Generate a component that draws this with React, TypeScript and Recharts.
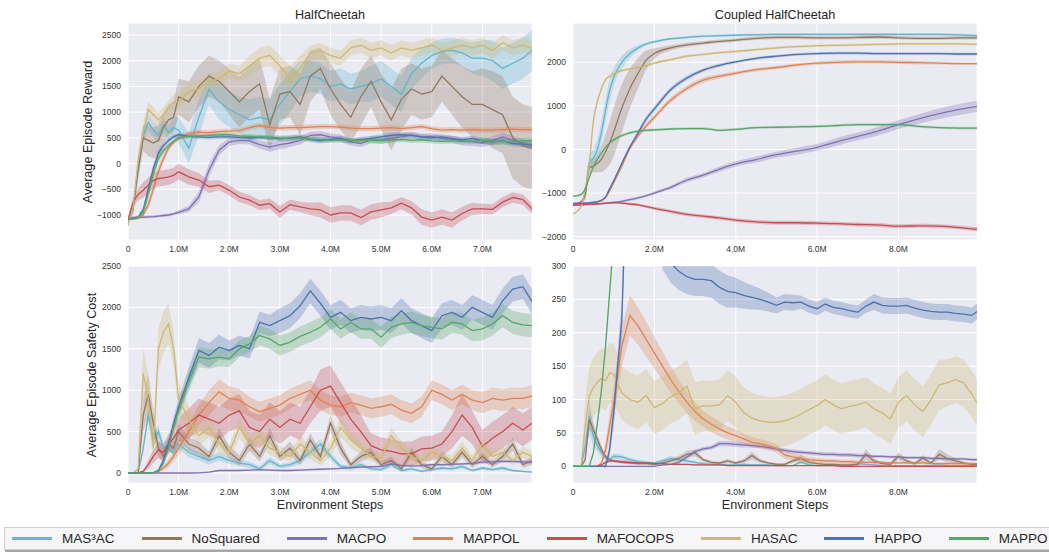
import React from "react";
import { ComposedChart, Area, Line, XAxis, YAxis, CartesianGrid } from "recharts";

type Series = { key: string; name: string; color: string };

const SERIES: Series[] = [
  { key: "mas3ac", name: "MAS³AC", color: "#64B5CD" },
  { key: "nosquared", name: "NoSquared", color: "#937860" },
  { key: "macpo", name: "MACPO", color: "#8172B3" },
  { key: "mappol", name: "MAPPOL", color: "#DD8452" },
  { key: "mafocops", name: "MAFOCOPS", color: "#C44E52" },
  { key: "hasac", name: "HASAC", color: "#CCB974" },
  { key: "happo", name: "HAPPO", color: "#4C72B0" },
  { key: "mappo", name: "MAPPO", color: "#55A868" },
];

// ---- x samples (millions of environment steps) ----
const STEPS_HC = [
  0, 0.1, 0.2, 0.3, 0.4, 0.5, 0.6, 0.7, 0.8, 0.9,
  1.0, 1.2, 1.4, 1.6, 1.8, 2.0, 2.2, 2.4, 2.6, 2.8,
  3.0, 3.2, 3.4, 3.6, 3.8, 4.0, 4.2, 4.4, 4.6, 4.8,
  5.0, 5.2, 5.4, 5.6, 5.8, 6.0, 6.2, 6.4, 6.6, 6.8,
  7.0, 7.2, 7.4, 7.6, 7.8, 7.98,
];
const STEPS_CHC_REWARD = [
  0, 0.1, 0.2, 0.3, 0.4, 0.5, 0.6, 0.7, 0.8, 0.9,
  1.0, 1.2, 1.4, 1.6, 1.8, 2.0, 2.4, 2.8, 3.2, 3.6,
  4.0, 4.5, 5.0, 5.5, 6.0, 6.5, 7.0, 7.5, 8.0, 8.5,
  9.0, 9.5, 9.93,
];
const STEPS_CHC_COST = [
  0, 0.1, 0.2, 0.3, 0.4, 0.5, 0.6, 0.7, 0.8, 0.9, 1.0,
  1.2, 1.4, 1.6, 1.8, 2.0, 2.2, 2.4, 2.6, 2.8, 3.0,
  3.2, 3.4, 3.6, 3.8, 4.0, 4.2, 4.4, 4.6, 4.8, 5.0,
  5.2, 5.4, 5.6, 5.8, 6.0, 6.2, 6.4, 6.6, 6.8, 7.0,
  7.2, 7.4, 7.6, 7.8, 8.0, 8.2, 8.4, 8.6, 8.8, 9.0,
  9.2, 9.4, 9.6, 9.8, 9.93,
];

// ---- tick labels ----
const X_TICKS_HC = [0, 1, 2, 3, 4, 5, 6, 7];
const X_TICKS_CHC = [0, 2, 4, 6, 8];
const Y_TICKS_HC_REWARD = [-1000, -500, 0, 500, 1000, 1500, 2000, 2500];
const Y_TICKS_CHC_REWARD = [-2000, -1000, 0, 1000, 2000];
const Y_TICKS_HC_COST = [0, 500, 1000, 1500, 2000, 2500];
const Y_TICKS_CHC_COST = [0, 50, 100, 150, 200, 250, 300];

// ---- HalfCheetah reward: mean / half band ----
const hcRewardMas3ac = [
  -1100, -850, -150, 550, 800, 650, 550, 750, 600, 700,
  650, 300, 900, 1450, 1200, 1050, 950, 850, 900, 850,
  1150, 1400, 1650, 1700, 1650, 1500, 1550, 1450, 1500, 1550,
  1650, 1500, 1350, 1750, 1950, 2100, 2180, 2200, 2150, 2050,
  2050, 2000, 1850, 1950, 2050, 2200,
];
const hcRewardMas3acSd = [
  50, 100, 150, 150, 150, 150, 150, 150, 150, 200,
  250, 300, 350, 300, 350, 350, 350, 400, 400, 400,
  400, 400, 350, 300, 300, 300, 300, 300, 300, 350,
  350, 350, 350, 300, 300, 250, 250, 250, 250, 300,
  350, 400, 400, 400, 400, 400,
];
const hcRewardNoSquared = [
  -1100, -900, -100, 500, 450, 400, 450, 700, 850, 900,
  1300, 1200, 1500, 1700, 1600, 1400, 1200, 1400, 1550, 750,
  1350, 1400, 1150, 1700, 1850, 1450, 1150, 900, 1300, 1600,
  1200, 850, 1250, 1450, 1350, 1400, 1700, 1500, 1300, 1150,
  1150, 1050, 950, 500, 350, 300,
];
const hcRewardNoSquaredSd = [
  50, 100, 200, 250, 300, 300, 300, 300, 300, 300,
  350, 400, 400, 400, 400, 450, 500, 500, 500, 500,
  500, 500, 600, 500, 400, 500, 500, 500, 550, 500,
  550, 600, 600, 500, 500, 500, 500, 550, 600, 650,
  700, 750, 750, 800, 800, 800,
];
const hcRewardMacpo = [
  -1060, -1050, -1045, -1040, -1035, -1030, -1020, -1010, -1000, -980,
  -950, -880, -650, -130, 260, 420, 450, 440, 370, 320,
  370, 400, 450, 550, 560, 520, 490, 420, 390, 460,
  460, 490, 520, 550, 520, 530, 490, 470, 430, 420,
  400, 450, 520, 460, 400, 350,
];
const hcRewardMacpoSd = [
  30, 30, 30, 30, 30, 30, 30, 30, 30, 30,
  40, 60, 100, 120, 100, 80, 70, 70, 80, 90,
  90, 80, 80, 70, 70, 70, 70, 70, 70, 70,
  80, 80, 70, 70, 60, 60, 60, 70, 80, 80,
  80, 80, 80, 80, 80, 80,
];
const hcRewardMappol = [
  -1080, -1075, -1060, -1000, -800, -500, -150, 100, 300, 420,
  500, 580, 610, 600, 620, 630, 640, 700, 740, 700,
  690, 700, 700, 710, 720, 720, 710, 690, 680, 680,
  690, 700, 680, 700, 720, 680, 650, 660, 650, 660,
  650, 650, 660, 670, 660, 660,
];
const hcRewardMappolSd = [
  20, 20, 30, 40, 80, 100, 100, 80, 60, 50,
  50, 50, 50, 50, 50, 50, 50, 50, 50, 50,
  50, 50, 50, 50, 50, 50, 50, 50, 50, 50,
  50, 50, 50, 50, 50, 50, 50, 50, 50, 50,
  50, 50, 50, 50, 50, 50,
];
const hcRewardMafocops = [
  -1100, -750, -600, -520, -420, -330, -290, -280, -260, -230,
  -160, -260, -320, -450, -420, -520, -650, -710, -810, -780,
  -940, -800, -840, -880, -900, -1000, -960, -960, -1050, -940,
  -900, -860, -770, -860, -1040, -1100, -1040, -1100, -970, -880,
  -880, -890, -750, -660, -700, -880,
];
const hcRewardMafocopsSd = [
  30, 80, 120, 150, 150, 150, 150, 150, 150, 150,
  150, 150, 130, 120, 100, 100, 100, 100, 100, 100,
  120, 100, 100, 120, 150, 150, 150, 150, 150, 150,
  150, 120, 120, 130, 150, 150, 150, 150, 130, 120,
  100, 100, 100, 100, 100, 100,
];
const hcRewardHasac = [
  -1200, -850, 50, 600, 1050, 950, 850, 950, 1070, 1200,
  1200, 1400, 1450, 1600, 1650, 1800, 1750, 1900, 2050, 2100,
  1900, 1650, 1850, 2150, 2200, 2100, 2050, 2250, 2300, 2200,
  2250, 2150, 2250, 2200, 2250, 2300, 2200, 2250, 2300, 2250,
  2300, 2200, 2350, 2250, 2300, 2250,
];
const hcRewardHasacSd = [
  50, 100, 200, 200, 150, 150, 150, 150, 150, 150,
  150, 150, 150, 150, 150, 150, 150, 200, 200, 200,
  200, 250, 250, 150, 150, 150, 150, 150, 150, 150,
  150, 150, 150, 150, 150, 150, 150, 150, 150, 150,
  150, 150, 150, 150, 150, 150,
];
const hcRewardHappo = [
  -1080, -1070, -1040, -900, -500, -100, 200, 350, 450, 520,
  560, 530, 520, 510, 520, 520, 510, 500, 510, 500,
  480, 500, 520, 470, 440, 470, 490, 440, 470, 490,
  520, 550, 560, 550, 520, 500, 520, 490, 460, 490,
  440, 420, 440, 390, 380, 360,
];
const hcRewardHappoSd = [
  20, 20, 30, 60, 100, 100, 80, 60, 50, 40,
  40, 40, 40, 40, 40, 40, 40, 40, 40, 40,
  50, 50, 50, 50, 50, 50, 50, 50, 50, 50,
  50, 50, 50, 50, 50, 50, 50, 50, 50, 50,
  60, 60, 60, 60, 60, 60,
];
const hcRewardMappo = [
  -1080, -1075, -1050, -950, -600, -200, 100, 250, 350, 430,
  500, 530, 540, 550, 560, 560, 540, 530, 520, 510,
  500, 490, 500, 480, 470, 450, 460, 440, 450, 450,
  440, 460, 470, 450, 460, 440, 430, 440, 440, 430,
  450, 420, 430, 420, 440, 450,
];
const hcRewardMappoSd = [
  20, 20, 30, 60, 100, 100, 80, 60, 50, 40,
  40, 40, 40, 40, 40, 40, 40, 40, 40, 40,
  50, 50, 50, 50, 50, 50, 50, 50, 50, 50,
  50, 50, 50, 50, 50, 50, 50, 50, 50, 50,
  60, 60, 60, 60, 60, 60,
];

// ---- HalfCheetah safety cost ----
const hcCostMas3ac = [
  0, 0, 0, 300, 700, 400, 500, 300, 350, 250,
  350, 250, 200, 150, 200, 150, 120, 100, 50, 150,
  80, 100, 150, 250, 350, 200, 80, 60, 100, 50,
  40, 100, 30, 50, 20, 40, 60, 50, 80, 30,
  60, 40, 60, 30, 20, 10,
];
const hcCostMas3acSd = [
  0, 0, 5, 60, 80, 80, 80, 60, 60, 50,
  60, 60, 50, 50, 50, 40, 40, 40, 30, 40,
  30, 30, 40, 50, 60, 50, 30, 30, 30, 20,
  20, 30, 20, 20, 15, 20, 20, 20, 25, 15,
  20, 15, 20, 15, 10, 10,
];
const hcCostNoSquared = [
  0, 0, 0, 700, 950, 600, 300, 200, 350, 300,
  500, 350, 300, 200, 450, 250, 150, 350, 200, 450,
  200, 300, 150, 400, 200, 600, 300, 100, 200, 250,
  100, 150, 50, 250, 100, 50, 200, 100, 250, 100,
  200, 100, 200, 350, 100, 150,
];
const hcCostNoSquaredSd = [
  0, 0, 5, 200, 250, 150, 100, 80, 80, 80,
  100, 80, 80, 60, 100, 80, 60, 80, 60, 100,
  60, 80, 60, 80, 60, 100, 80, 40, 60, 60,
  40, 50, 30, 60, 40, 30, 60, 40, 60, 40,
  50, 40, 50, 80, 40, 50,
];
const hcCostMacpo = [
  0, 0, 0, 0, 0, 0, 0, 0, 0, 0,
  0, 0, 2, 10, 30, 30, 30, 35, 40, 35,
  30, 30, 35, 40, 45, 50, 55, 65, 70, 75,
  80, 110, 90, 85, 90, 100, 100, 105, 110, 115,
  130, 135, 140, 140, 135, 130,
];
const hcCostMacpoSd = [
  1, 1, 1, 1, 1, 1, 1, 1, 1, 1,
  2, 2, 3, 5, 8, 8, 8, 8, 10, 10,
  10, 10, 10, 10, 10, 10, 10, 10, 10, 10,
  15, 15, 15, 15, 15, 15, 15, 15, 15, 15,
  20, 20, 20, 20, 20, 20,
];
const hcCostMappol = [
  0, 0, 0, 0, 0, 2, 20, 60, 120, 200,
  300, 500, 700, 850, 980, 900, 880, 800, 740, 780,
  820, 900, 950, 1000, 880, 820, 800, 850, 820, 780,
  800, 830, 760, 720, 800, 1000, 950, 880, 950, 880,
  850, 900, 880, 900, 900, 930,
];
const hcCostMappolSd = [
  0, 0, 0, 0, 0, 5, 15, 30, 50, 60,
  80, 100, 120, 150, 150, 150, 130, 120, 120, 120,
  120, 120, 120, 120, 120, 120, 120, 120, 120, 120,
  120, 120, 120, 120, 120, 120, 120, 120, 120, 120,
  130, 130, 130, 130, 130, 130,
];
const hcCostMafocops = [
  0, 0, 0, 20, 100, 200, 280, 250, 350, 420,
  520, 600, 700, 650, 600, 700, 750, 550, 500, 650,
  550, 650, 600, 800, 1000, 1050, 850, 650, 500, 330,
  280, 260, 230, 230, 290, 300, 350, 500, 700, 550,
  320, 420, 500, 600, 520, 600,
];
const hcCostMafocopsSd = [
  0, 0, 0, 20, 50, 80, 100, 100, 120, 140,
  150, 180, 200, 200, 200, 200, 200, 200, 200, 200,
  200, 200, 200, 200, 250, 250, 250, 250, 200, 150,
  150, 150, 150, 150, 150, 150, 150, 200, 250, 200,
  200, 200, 200, 200, 200, 200,
];
const hcCostHasac = [
  0, 0, 50, 1200, 900, 300, 1500, 1700, 1800, 1500,
  900, 650, 450, 550, 350, 250, 550, 350, 450, 300,
  250, 200, 350, 250, 150, 300, 550, 400, 300, 200,
  180, 450, 300, 200, 150, 250, 200, 150, 300, 150,
  350, 200, 250, 150, 250, 200,
];
const hcCostHasacSd = [
  0, 0, 20, 300, 300, 150, 250, 250, 250, 200,
  200, 150, 120, 120, 100, 80, 120, 100, 100, 80,
  80, 60, 100, 80, 60, 100, 120, 100, 80, 60,
  60, 100, 80, 60, 60, 80, 60, 60, 80, 60,
  80, 60, 70, 60, 70, 60,
];
const hcCostHappo = [
  0, 0, 0, 0, 0, 5, 30, 150, 350, 600,
  800, 1150, 1480, 1420, 1520, 1480, 1540, 1500, 1820, 1780,
  1840, 1900, 2020, 2200, 2050, 1880, 1940, 1840, 1880, 1860,
  1880, 1840, 1960, 1840, 1780, 1720, 1900, 1940, 1880, 2000,
  1940, 1880, 2080, 2220, 2250, 2070,
];
const hcCostHappoSd = [
  0, 0, 0, 0, 0, 5, 20, 40, 60, 80,
  100, 120, 150, 150, 150, 120, 120, 120, 130, 130,
  150, 150, 150, 150, 150, 150, 150, 150, 150, 150,
  150, 150, 150, 150, 150, 150, 150, 150, 150, 150,
  150, 150, 150, 150, 150, 150,
];
const hcCostMappo = [
  0, 0, 0, 0, 0, 3, 20, 120, 300, 550,
  750, 1100, 1400, 1380, 1400, 1380, 1500, 1560, 1660, 1620,
  1540, 1580, 1650, 1700, 1760, 1860, 1740, 1820, 1740, 1740,
  1640, 1760, 1800, 1820, 1780, 1760, 1740, 1820, 1800, 1720,
  1740, 1800, 1900, 1820, 1790, 1780,
];
const hcCostMappoSd = [
  0, 0, 0, 0, 0, 5, 15, 30, 50, 70,
  90, 110, 120, 120, 110, 100, 100, 100, 120, 120,
  120, 120, 120, 120, 120, 120, 120, 120, 120, 120,
  130, 130, 130, 130, 130, 130, 130, 130, 130, 130,
  140, 140, 140, 140, 140, 140,
];

// ---- Coupled HalfCheetah reward ----
const chcRewardMas3ac = [
  -1250, -1240, -1200, -1000, -300, -200, 0, 400, 900, 1350,
  1650, 2000, 2200, 2330, 2420, 2470, 2540, 2570, 2600, 2610,
  2620, 2630, 2640, 2640, 2640, 2640, 2640, 2640, 2640, 2640,
  2640, 2630, 2610,
];
const chcRewardMas3acSd = [
  20, 20, 30, 100, 150, 200, 250, 250, 250, 250,
  200, 150, 100, 60, 40, 30, 30, 30, 30, 30,
  30, 30, 30, 30, 30, 30, 30, 30, 30, 30,
  30, 30, 30,
];
const chcRewardNoSquared = [
  -1250, -1240, -1200, -1050, -420, -380, -320, -220, -50, 150,
  400, 950, 1400, 1750, 2050, 2200, 2330, 2400, 2440, 2480,
  2510, 2550, 2570, 2570, 2560, 2560, 2570, 2580, 2560, 2550,
  2550, 2560, 2560,
];
const chcRewardNoSquaredSd = [
  20, 20, 30, 100, 150, 150, 200, 300, 400, 500,
  550, 550, 450, 350, 220, 120, 60, 50, 40, 40,
  40, 40, 40, 40, 40, 40, 40, 40, 40, 40,
  40, 40, 40,
];
const chcRewardMacpo = [
  -1260, -1258, -1255, -1252, -1250, -1248, -1245, -1240, -1235, -1225,
  -1215, -1190, -1150, -1110, -1060, -1000, -870, -700, -590, -450,
  -330, -230, -120, -40, 50, 180, 300, 420, 570, 700,
  820, 920, 990,
];
const chcRewardMacpoSd = [
  20, 20, 20, 20, 20, 20, 20, 20, 20, 20,
  20, 25, 30, 30, 30, 35, 40, 50, 50, 60,
  60, 70, 70, 80, 80, 90, 90, 100, 100, 110,
  120, 130, 130,
];
const chcRewardMappol = [
  -1240, -1238, -1235, -1230, -1220, -1210, -1195, -1160, -1100, -950,
  -760, -380, 30, 320, 540, 740, 1130, 1400, 1590, 1680,
  1750, 1830, 1880, 1940, 1980, 2000, 2010, 2010, 2000, 1990,
  1980, 1970, 1970,
];
const chcRewardMappolSd = [
  20, 20, 20, 20, 20, 20, 20, 20, 20, 20,
  40, 50, 50, 60, 60, 60, 60, 60, 60, 50,
  40, 40, 40, 40, 40, 40, 40, 40, 40, 40,
  30, 30, 30,
];
const chcRewardMafocops = [
  -1280, -1275, -1270, -1265, -1260, -1255, -1250, -1240, -1230, -1225,
  -1220, -1230, -1250, -1270, -1310, -1350, -1420, -1490, -1530, -1570,
  -1620, -1660, -1680, -1680, -1690, -1700, -1720, -1730, -1760, -1750,
  -1760, -1790, -1830,
];
const chcRewardMafocopsSd = [
  20, 20, 20, 20, 20, 20, 20, 20, 20, 20,
  25, 25, 30, 30, 30, 35, 40, 40, 40, 40,
  45, 45, 45, 45, 45, 45, 45, 45, 45, 45,
  45, 45, 45,
];
const chcRewardHasac = [
  -1480, -1420, -1300, -900, -350, 650, 1100, 1400, 1600, 1680,
  1740, 1810, 1850, 1880, 1920, 1980, 2060, 2140, 2180, 2220,
  2250, 2290, 2330, 2360, 2380, 2390, 2400, 2410, 2420, 2420,
  2420, 2420, 2410,
];
const chcRewardHasacSd = [
  20, 20, 30, 60, 80, 80, 60, 40, 30, 30,
  30, 30, 30, 30, 30, 30, 30, 30, 30, 30,
  30, 30, 30, 30, 30, 30, 30, 30, 30, 30,
  30, 30, 30,
];
const chcRewardHappo = [
  -1240, -1238, -1235, -1230, -1225, -1215, -1200, -1170, -1090, -900,
  -720, -320, 60, 380, 700, 930, 1370, 1640, 1820, 1930,
  2010, 2090, 2140, 2180, 2200, 2210, 2210, 2200, 2200, 2200,
  2200, 2190, 2190,
];
const chcRewardHappoSd = [
  20, 20, 20, 20, 20, 20, 20, 20, 20, 20,
  40, 50, 50, 60, 60, 60, 50, 50, 40, 40,
  30, 30, 30, 30, 30, 30, 30, 30, 30, 30,
  30, 30, 30,
];
const chcRewardMappo = [
  -1070, -1060, -1030, -900, -650, -400, -230, -80, 50, 150,
  220, 320, 380, 420, 440, 450, 470, 480, 480, 440,
  460, 500, 510, 520, 530, 550, 570, 570, 570, 530,
  500, 490, 490,
];
const chcRewardMappoSd = [
  20, 20, 20, 20, 20, 20, 20, 20, 20, 20,
  30, 30, 30, 30, 30, 30, 30, 30, 30, 30,
  30, 30, 30, 30, 30, 30, 30, 30, 30, 30,
  30, 30, 30,
];

// ---- Coupled HalfCheetah safety cost ----
const chcCostMas3ac = [
  0, 0, 0, 30, 75, 45, 30, 20, 12, 10, 15,
  14, 10, 7, 6, 5, 8, 12, 10, 8, 6,
  4, 3, 3, 2, 2, 3, 2, 2, 2, 1,
  1, 1, 6, 2, 1, 1, 1, 1, 1, 4,
  3, 2, 1, 1, 1, 1, 1, 1, 1, 2,
  1, 1, 1, 1, 1,
];
const chcCostMas3acSd = [
  0, 0, 0, 10, 25, 15, 8, 6, 4, 3, 4,
  4, 3, 3, 2, 2, 3, 4, 3, 3, 2,
  2, 2, 2, 2, 2, 2, 2, 2, 2, 2,
  1, 1, 1, 1, 1, 1, 1, 1, 1, 1,
  1, 1, 1, 1, 1, 1, 1, 1, 1, 1,
  1, 1, 1, 1, 1,
];
const chcCostNoSquared = [
  0, 0, 0, 10, 70, 55, 40, 25, 15, 10, 8,
  6, 5, 4, 4, 3, 5, 8, 12, 18, 20,
  10, 6, 5, 8, 5, 8, 16, 8, 5, 3,
  3, 8, 12, 6, 4, 3, 3, 2, 2, 3,
  18, 8, 4, 3, 15, 8, 4, 12, 5, 18,
  12, 8, 5, 3, 3,
];
const chcCostNoSquaredSd = [
  0, 0, 0, 5, 15, 10, 8, 5, 3, 2, 2,
  2, 2, 2, 2, 2, 2, 3, 4, 5, 5,
  3, 2, 2, 3, 2, 3, 6, 3, 2, 2,
  2, 3, 5, 3, 2, 2, 2, 2, 2, 2,
  8, 4, 2, 2, 6, 3, 2, 5, 2, 8,
  6, 4, 2, 2, 2,
];
const chcCostMacpo = [
  0, 0, 0, 0, 0, 0, 0, 0, 0, 0, 0,
  0, 0, 0, 0, 0, 2, 3, 6, 14, 22,
  26, 28, 34, 34, 33, 32, 31, 30, 28, 26,
  24, 22, 21, 20, 19, 18, 18, 17, 17, 16,
  16, 15, 15, 14, 14, 13, 13, 13, 12, 12,
  11, 11, 11, 10, 10,
];
const chcCostMacpoSd = [
  0, 0, 0, 0, 0, 0, 0, 0, 0, 0, 0,
  0, 0, 0, 0, 0, 1, 1, 2, 3, 3,
  3, 3, 4, 4, 4, 4, 3, 3, 3, 3,
  3, 3, 3, 3, 3, 3, 3, 3, 3, 3,
  2, 2, 2, 2, 2, 2, 2, 2, 2, 2,
  2, 2, 2, 2, 2,
];
const chcCostMappol = [
  0, 0, 0, 0, 0, 0, 0, 5, 25, 60, 95,
  180, 226, 210, 190, 170, 150, 130, 112, 96, 82,
  71, 63, 56, 50, 46, 41, 36, 34, 31, 27,
  17, 14, 12, 10, 9, 8, 8, 7, 7, 6,
  6, 6, 6, 5, 5, 5, 5, 5, 4, 4,
  4, 4, 4, 4, 4,
];
const chcCostMappolSd = [
  0, 0, 0, 0, 0, 0, 0, 2, 10, 20, 25,
  30, 30, 28, 26, 24, 22, 20, 18, 16, 14,
  12, 12, 11, 10, 9, 8, 8, 7, 7, 6,
  6, 5, 5, 4, 4, 3, 3, 3, 3, 3,
  2, 2, 2, 2, 2, 2, 2, 2, 2, 2,
  2, 2, 2, 2, 2,
];
const chcCostMafocops = [
  0, 0, 0, 0, 0, 0, 0, 2, 6, 8, 8,
  7, 6, 5, 5, 4, 4, 3, 3, 3, 2,
  2, 2, 2, 1, 1, 1, 1, 1, 1, 1,
  1, 1, 1, 1, 1, 1, 1, 0, 0, 0,
  0, 0, 0, 0, 0, 0, 0, 0, 0, 0,
  0, 0, 0, 0, 0,
];
const chcCostMafocopsSd = [
  0, 0, 0, 0, 0, 0, 0, 1, 2, 2, 2,
  2, 2, 2, 1, 1, 1, 1, 1, 1, 1,
  1, 1, 1, 1, 1, 1, 1, 1, 1, 1,
  1, 1, 1, 1, 1, 1, 1, 1, 1, 1,
  0, 0, 0, 0, 0, 0, 0, 0, 0, 0,
  0, 0, 0, 0, 0,
];
const chcCostHasac = [
  0, 0, 0, 60, 105, 118, 126, 132, 128, 140, 138,
  110, 100, 96, 106, 88, 94, 104, 110, 120, 86,
  91, 90, 92, 106, 96, 80, 72, 68, 66, 66,
  68, 72, 78, 85, 91, 100, 92, 86, 90, 92,
  96, 86, 80, 71, 96, 106, 92, 82, 100, 122,
  125, 130, 125, 108, 95,
];
const chcCostHasacSd = [
  0, 0, 0, 40, 45, 45, 45, 45, 45, 45, 45,
  40, 40, 40, 40, 40, 40, 40, 40, 40, 40,
  38, 38, 38, 38, 38, 38, 38, 38, 38, 38,
  38, 38, 38, 38, 38, 38, 38, 38, 38, 38,
  38, 38, 38, 38, 38, 38, 38, 38, 38, 38,
  35, 35, 35, 35, 35,
];
const chcCostHappo = [
  0, 0, 0, 0, 0, 0, 0, 0, 0, 25, 80,
  220, 600, 900, 700, 480, 330, 305, 292, 284, 280,
  280, 278, 268, 262, 260, 256, 253, 250, 246, 241,
  246, 245, 246, 240, 236, 243, 238, 236, 233, 231,
  240, 246, 241, 240, 240, 241, 237, 234, 232, 231,
  231, 229, 228, 226, 232,
];
const chcCostHappoSd = [
  0, 0, 0, 0, 0, 0, 0, 0, 3, 10, 20,
  30, 50, 60, 60, 50, 35, 30, 28, 26, 25,
  25, 25, 25, 24, 22, 20, 18, 16, 14, 12,
  12, 12, 10, 10, 10, 10, 10, 10, 10, 10,
  10, 12, 12, 12, 12, 12, 12, 12, 12, 12,
  12, 12, 12, 12, 12,
];
const chcCostMappo = [
  0, 0, 0, 0, 0, 20, 65, 115, 180, 260, 340,
  600, 900, 1100, 1250, 1350, 1400, 1450, 1450, 1480, 1500,
  1500, 1510, 1490, 1500, 1520, 1500, 1490, 1510, 1500, 1500,
  1500, 1510, 1490, 1500, 1520, 1500, 1490, 1510, 1500, 1500,
  1500, 1510, 1490, 1500, 1520, 1500, 1490, 1510, 1500, 1500,
  1500, 1510, 1490, 1500, 1500,
];
const chcCostMappoSd = [
  0, 0, 0, 0, 0, 3, 6, 8, 10, 12, 15,
  30, 30, 30, 30, 30, 30, 30, 30, 30, 30,
  30, 30, 30, 30, 30, 30, 30, 30, 30, 30,
  30, 30, 30, 30, 30, 30, 30, 30, 30, 30,
  30, 30, 30, 30, 30, 30, 30, 30, 30, 30,
  30, 30, 30, 30, 30,
];

// rows for recharts: mean per series plus a [low, high] band
function buildRows(steps: number[], means: number[][], sds: number[][]) {
  return steps.map((x, i) => {
    const row: Record<string, any> = { x };
    SERIES.forEach((s, j) => {
      const m = means[j][i];
      const d = sds[j][i];
      row[s.key] = m;
      row[s.key + "Band"] = [m - d, m + d];
    });
    return row;
  });
}

const hcRewardRows = buildRows(
  STEPS_HC,
  [hcRewardMas3ac, hcRewardNoSquared, hcRewardMacpo, hcRewardMappol, hcRewardMafocops, hcRewardHasac, hcRewardHappo, hcRewardMappo],
  [hcRewardMas3acSd, hcRewardNoSquaredSd, hcRewardMacpoSd, hcRewardMappolSd, hcRewardMafocopsSd, hcRewardHasacSd, hcRewardHappoSd, hcRewardMappoSd]
);
const hcCostRows = buildRows(
  STEPS_HC,
  [hcCostMas3ac, hcCostNoSquared, hcCostMacpo, hcCostMappol, hcCostMafocops, hcCostHasac, hcCostHappo, hcCostMappo],
  [hcCostMas3acSd, hcCostNoSquaredSd, hcCostMacpoSd, hcCostMappolSd, hcCostMafocopsSd, hcCostHasacSd, hcCostHappoSd, hcCostMappoSd]
);
const chcRewardRows = buildRows(
  STEPS_CHC_REWARD,
  [chcRewardMas3ac, chcRewardNoSquared, chcRewardMacpo, chcRewardMappol, chcRewardMafocops, chcRewardHasac, chcRewardHappo, chcRewardMappo],
  [chcRewardMas3acSd, chcRewardNoSquaredSd, chcRewardMacpoSd, chcRewardMappolSd, chcRewardMafocopsSd, chcRewardHasacSd, chcRewardHappoSd, chcRewardMappoSd]
);
const chcCostRows = buildRows(
  STEPS_CHC_COST,
  [chcCostMas3ac, chcCostNoSquared, chcCostMacpo, chcCostMappol, chcCostMafocops, chcCostHasac, chcCostHappo, chcCostMappo],
  [chcCostMas3acSd, chcCostNoSquaredSd, chcCostMacpoSd, chcCostMappolSd, chcCostMafocopsSd, chcCostHasacSd, chcCostHappoSd, chcCostMappoSd]
);

const PLOT_W = 404;
const PLOT_H = 217;
const Y_AXIS_W = 46;
const X_AXIS_H = 20;
const TOP_PAD = 8; // room for the top tick label
const FONT = '"Liberation Sans", Arial, sans-serif';
const TEXT = "#262626";

const fmtSteps = (v: number) => (v === 0 ? "0" : `${v.toFixed(1)}M`);
const fmtVal = (v: number) => (v < 0 ? `\u2212${Math.abs(v)}` : `${v}`);

type PanelProps = {
  left: number;
  top: number;
  rows: Record<string, any>[];
  xMax: number;
  xTicks: number[];
  yDomain: [number, number];
  yTicks: number[];
  curve: "linear" | "monotone";
};

function Panel({ left, top, rows, xMax, xTicks, yDomain, yTicks, curve }: PanelProps) {
  const tick = { fontSize: 8.5, fill: "#333" };
  return (
    <div style={{ position: "absolute", left: left - Y_AXIS_W, top: top - TOP_PAD }}>
      <ComposedChart
        width={PLOT_W + Y_AXIS_W}
        height={PLOT_H + X_AXIS_H + TOP_PAD}
        data={rows}
        margin={{ top: TOP_PAD, right: 0, bottom: 0, left: 0 }}
      >
        <CartesianGrid stroke="#ffffff" strokeWidth={1} fill="#EAEAF2" fillOpacity={1} />
        <XAxis
          dataKey="x"
          type="number"
          domain={[0, xMax]}
          ticks={xTicks}
          interval={0}
          tickFormatter={fmtSteps}
          axisLine={false}
          tickLine={false}
          tickSize={3}
          tickMargin={3}
          height={X_AXIS_H}
          tick={tick}
          allowDataOverflow
        />
        <YAxis
          type="number"
          domain={yDomain}
          ticks={yTicks}
          interval={0}
          tickFormatter={fmtVal}
          axisLine={false}
          tickLine={false}
          tickSize={5}
          tickMargin={2}
          width={Y_AXIS_W}
          tick={tick}
          allowDataOverflow
        />
        {SERIES.map((s) => (
          <Area
            key={s.key + "-band"}
            type={curve}
            dataKey={s.key + "Band"}
            stroke="none"
            fill={s.color}
            fillOpacity={0.3}
            activeDot={false}
            isAnimationActive={false}
          />
        ))}
        {SERIES.map((s) => (
          <Line
            key={s.key}
            type={curve}
            dataKey={s.key}
            stroke={s.color}
            strokeWidth={1.3}
            dot={false}
            activeDot={false}
            isAnimationActive={false}
          />
        ))}
      </ComposedChart>
    </div>
  );
}

function Label({ x, y, text, size = 12.6, rotate = false }: { x: number; y: number; text: string; size?: number; rotate?: boolean }) {
  return (
    <div
      style={{
        position: "absolute",
        left: x,
        top: y,
        transform: `translate(-50%, -50%)${rotate ? " rotate(-90deg)" : ""}`,
        whiteSpace: "nowrap",
        fontSize: size,
        color: TEXT,
        lineHeight: 1,
      }}
    >
      {text}
    </div>
  );
}

function Legend() {
  return (
    <div
      style={{
        position: "absolute",
        left: 4,
        top: 527,
        width: 1040,
        height: 21,
        border: "1px solid #cfcfcf",
        background: "#f6f6f9",
        boxShadow: "1px 2px 0 rgba(0,0,0,0.35)",
        display: "flex",
        alignItems: "center",
        gap: 27,
        paddingLeft: 7,
        boxSizing: "content-box",
      }}
    >
      {SERIES.map((s) => (
        <div key={s.key} style={{ display: "flex", alignItems: "center" }}>
          <span style={{ display: "inline-block", width: 40, height: 3, background: s.color, marginRight: 10 }} />
          <span style={{ fontSize: 13.5, color: TEXT, whiteSpace: "nowrap" }}>{s.name}</span>
        </div>
      ))}
    </div>
  );
}

export default function App() {
  return (
    <div
      style={{
        position: "absolute",
        left: 0,
        top: 0,
        width: 1049,
        height: 552,
        background: "#ffffff",
        fontFamily: FONT,
        overflow: "hidden",
      }}
    >
      <Label x={330} y={15} text="HalfCheetah" />
      <Label x={775} y={15} text="Coupled HalfCheetah" />
      <Label x={88} y={131.5} text="Average Episode Reward" rotate />
      <Label x={92} y={374.5} text="Average Episode Safety Cost" rotate />
      <Label x={330} y={505} text="Environment Steps" />
      <Label x={775} y={505} text="Environment Steps" />

      <Panel left={128} top={23} rows={hcRewardRows} xMax={7.98} xTicks={X_TICKS_HC} yDomain={[-1486, 2733]} yTicks={Y_TICKS_HC_REWARD} curve="linear" />
      <Panel left={573} top={23} rows={chcRewardRows} xMax={9.93} xTicks={X_TICKS_CHC} yDomain={[-2076, 2901]} yTicks={Y_TICKS_CHC_REWARD} curve="monotone" />
      <Panel left={128} top={266} rows={hcCostRows} xMax={7.98} xTicks={X_TICKS_HC} yDomain={[-121, 2500]} yTicks={Y_TICKS_HC_COST} curve="linear" />
      <Panel left={573} top={266} rows={chcCostRows} xMax={9.93} xTicks={X_TICKS_CHC} yDomain={[-25, 300]} yTicks={Y_TICKS_CHC_COST} curve="linear" />

      <Legend />
    </div>
  );
}
